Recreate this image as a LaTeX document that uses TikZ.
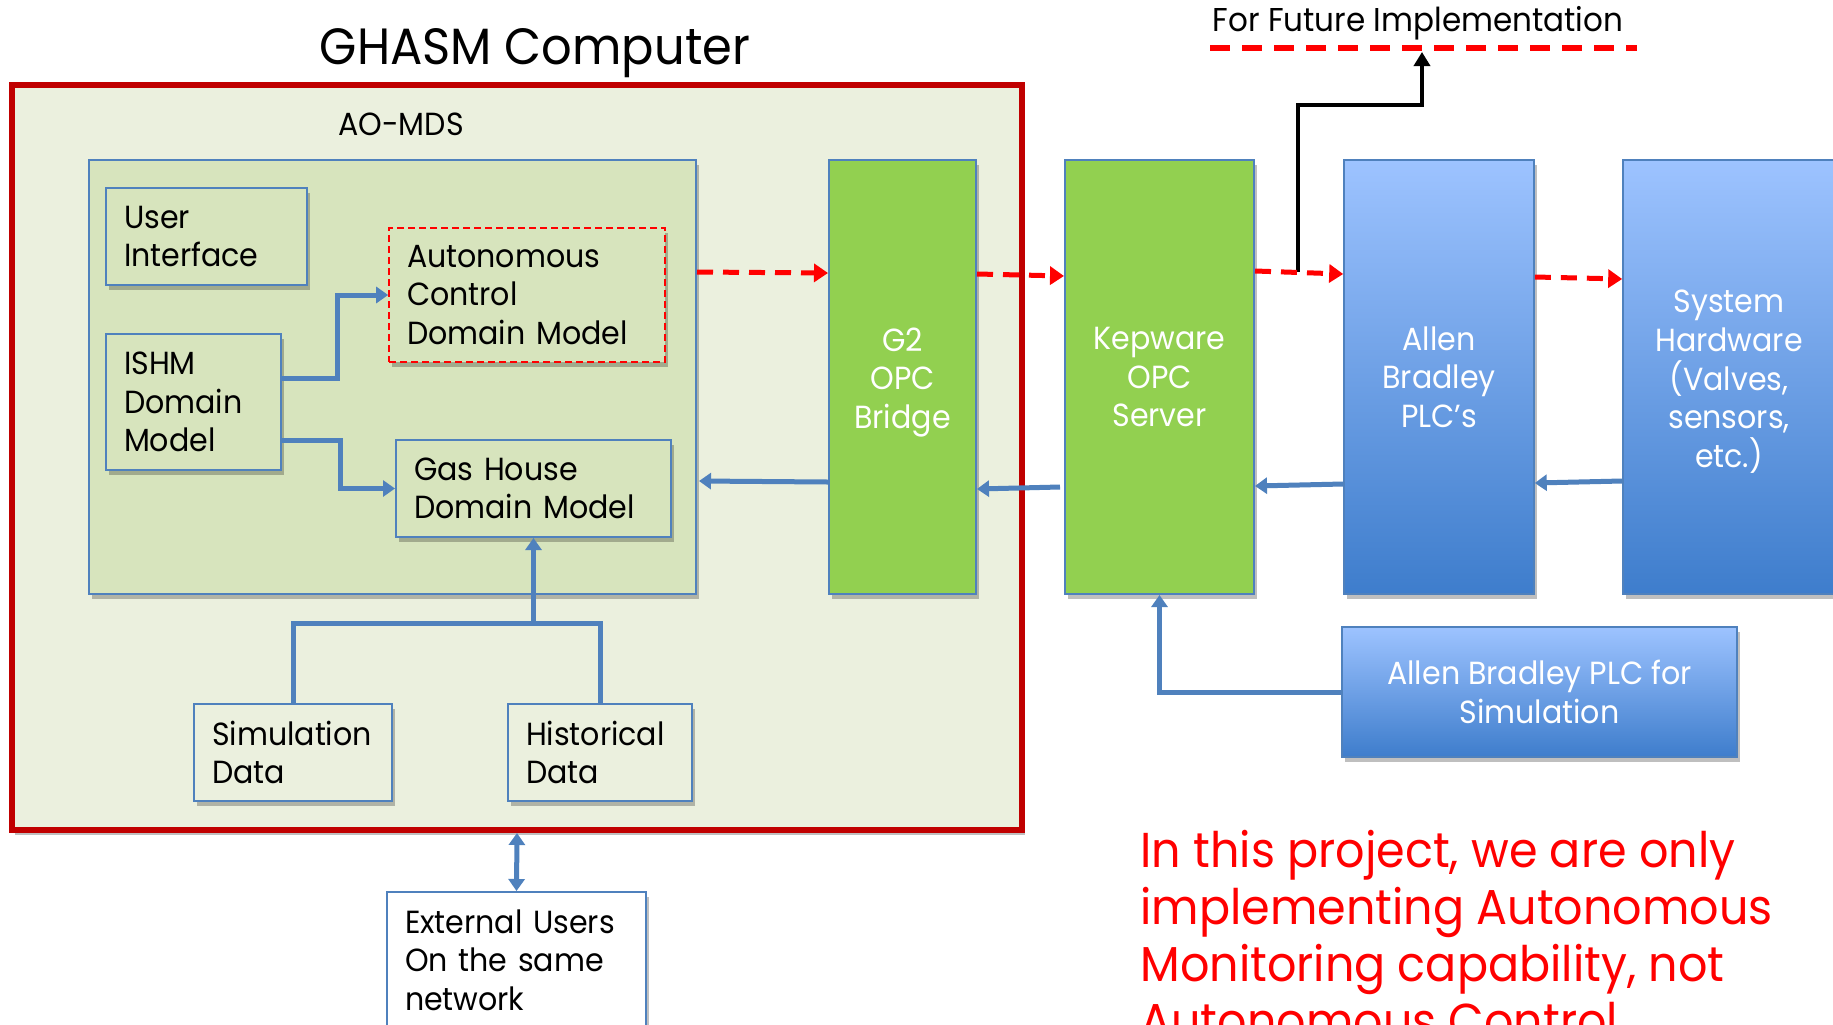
\documentclass[tikz,border=0pt]{standalone}
\usepackage{fontspec}
\setmainfont{Poppins}[FakeStretch=0.94]
\usetikzlibrary{arrows.meta,shadows}
\definecolor{redframe}{RGB}{192,0,0}
\definecolor{outerfill}{RGB}{235,240,222}
\definecolor{innerfill}{RGB}{215,228,189}
\definecolor{bline}{RGB}{79,129,189}
\definecolor{lgreen}{RGB}{146,208,80}
\definecolor{abtop}{RGB}{157,195,255}
\definecolor{abbot}{RGB}{62,125,204}
\begin{document}
\begin{tikzpicture}[x=0.5pt,y=-0.5pt,
  every node/.style={font=\fontsize{16}{19.3}\selectfont},
  shad/.style={drop shadow={shadow xshift=1.5pt,shadow yshift=-2.5pt,opacity=0.25,fill=black}},
  lbox/.style={draw=bline,line width=1pt,fill=innerfill,align=left,inner xsep=9pt,shad},
  gbox/.style={draw=bline,line width=1pt,fill=lgreen,text=white,align=center,minimum height=217pt,inner sep=0pt,shad},
  bbox/.style={draw=bline,line width=0.8pt,top color=abtop,bottom color=abbot,text=white,align=center,inner sep=0pt,shad},
  bconn/.style={draw=bline,line width=2.5pt},
  barrow/.style={bconn,-{Triangle[length=6pt,width=8pt]}},
  rarrow/.style={draw=red,line width=2.5pt,dash pattern=on 8pt off 5pt,-{Triangle[length=7pt,width=9pt]}},
]
\useasboundingbox (0,0) rectangle (1833,1024);
\clip (0,0) rectangle (1833,1024);
\fill[white] (0,0) rectangle (1833,1024);

% title
\node[font=\fontsize{25.5}{30}\selectfont] (title) at (535,53) {GHASM Computer};

% outer computer frame
\node[draw=redframe,line width=3pt,fill=outerfill,minimum width=505pt,minimum height=372.5pt,inner sep=0pt,shad] (outer) at (517,457.5) {};
\node (aolabel) at (401,124) {AO-MDS};

% AO-MDS box
\node[draw=bline,line width=1pt,fill=innerfill,minimum width=303.5pt,minimum height=217pt,inner sep=0pt,shad] (aomds) at (392.5,377) {};

\node[lbox,text width=82.5pt,minimum height=48.5pt] (ui) at (206.5,236.5) {User\\Interface};
\node[lbox,text width=69.5pt,minimum height=68pt] (ishm) at (193.5,402) {ISHM\\Domain\\Model};
\node[lbox,draw=red,line width=0.8pt,dash pattern=on 3.5pt off 2pt,drop shadow={opacity=0},text width=120pt,minimum height=67pt] (auto) at (527,295) {Autonomous\\Control\\Domain Model};
\node[lbox,text width=119.5pt,minimum height=48.5pt] (gas) at (533.5,488.5) {Gas House\\Domain Model};

\node[lbox,fill=outerfill,text width=81pt,minimum height=48.5pt] (sim) at (293,752.5) {Simulation\\Data};
\node[lbox,fill=outerfill,text width=74pt,minimum height=48.5pt] (hist) at (600,752.5) {Historical\\Data};

\node[lbox,fill=white,text width=111.5pt,minimum height=68pt] (ext) at (516.5,960) {External Users\\On the same\\network};

% chain boxes
\node[gbox,minimum width=73.5pt] (g2) at (902.5,377) {\rule{0pt}{17pt}G2\\OPC\\Bridge};
\node[gbox,minimum width=94.5pt] (kep) at (1159.5,377) {Kepware\\OPC\\Server};
\node[bbox,minimum width=95pt,minimum height=217pt] (ab) at (1439,377) {Allen\\Bradley\\PLC’s};
\node[bbox,minimum width=106pt,minimum height=217pt] (sys) at (1729,377) {\rule{0pt}{16pt}System\\Hardware\\(Valves,\\sensors,\\etc.)};
\node[bbox,minimum width=197.5pt,minimum height=65pt] (plcsim) at (1539.5,692) {Allen Bradley PLC for\\Simulation};

% future implementation
\node[font=\fontsize{16.5}{19}\selectfont] (future) at (1418,23) {For Future Implementation};
\coordinate (futL) at (1210,48);
\coordinate (futR) at (1637,48);
\coordinate (fstart) at (1298,272);
\coordinate (ftip) at (1422,52);
\draw[red,line width=3pt,dash pattern=on 10pt off 6pt] (futL) -- (futR);
\draw[line width=2pt,-{Triangle[length=7pt,width=8pt]}] (fstart) -- ++(0,-167) -| (ftip);

% red dashed forward arrows
\draw[rarrow] ([yshift=52.5pt]aomds.east) -- ([yshift=52pt]g2.west);
\draw[rarrow] ([yshift=51.5pt]g2.east) -- ([yshift=50.5pt]kep.west);
\draw[rarrow] ([yshift=53pt]kep.east) -- ([yshift=51.5pt]ab.west);
\draw[rarrow] ([yshift=50pt]ab.east) -- ([yshift=49pt]sys.west);

% blue return arrows
\draw[barrow] ([yshift=-52pt]sys.west) -- ([yshift=-53pt]ab.east);
\draw[barrow] ([yshift=-53.5pt]ab.west) -- ([yshift=-54.5pt]kep.east);
\draw[barrow] ([yshift=-55pt,xshift=-2pt]kep.west) -- ([yshift=-56pt]g2.east);
\draw[barrow] ([yshift=-52.5pt]g2.west) -- ([yshift=-52pt,xshift=1pt]aomds.east);

% internal arrows
\draw[barrow] ([yshift=12pt]ishm.east) -- ++(55,0) |- (auto.west);
\draw[barrow] ([yshift=-19pt]ishm.east) -- ++(58,0) |- (gas.west);
\coordinate (jn) at (533.5,623);
\draw[bconn] (sim.north) |- (jn) -| (hist.north);
\draw[barrow] (jn) -- (gas.south);

\draw[barrow] (plcsim.west) -| (kep.south);
\draw[bconn,{Triangle[length=6pt,width=8pt]}-{Triangle[length=6pt,width=8pt]}] (outer.south) -- (ext.north);

% note
\node[anchor=north west,align=left,text=red,font=\fontsize{24.5}{28.5}\selectfont,inner sep=0pt] (note) at (1140,830) {In this project, we are only\\implementing Autonomous\\Monitoring capability, not\\Autonomous Control};
\end{tikzpicture}
\end{document}
